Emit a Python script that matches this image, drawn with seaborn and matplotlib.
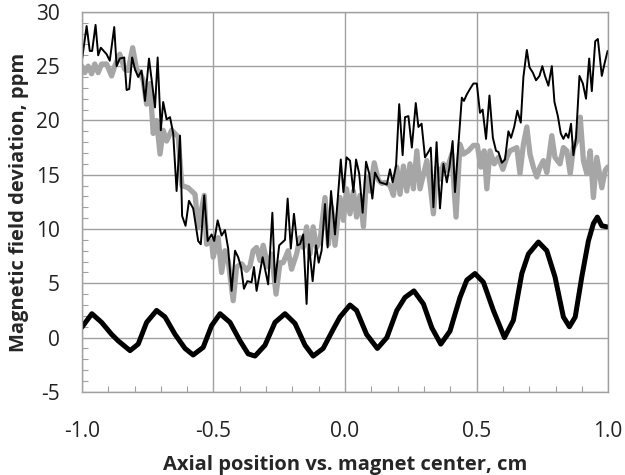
import matplotlib
matplotlib.use("Agg")
import matplotlib.pyplot as plt
from matplotlib.ticker import MultipleLocator, FormatStrFormatter
import seaborn as sns

# thin black trace (noisy measurement)
thin_x = [-1.000, -0.982, -0.970, -0.961, -0.948, -0.938, -0.928, -0.906, -0.894, -0.877,
          -0.868, -0.856, -0.839, -0.830, -0.820, -0.809, -0.798, -0.786, -0.773, -0.760,
          -0.745, -0.733, -0.722, -0.712, -0.700, -0.691, -0.678, -0.665, -0.653, -0.640,
          -0.627, -0.619, -0.606, -0.593, -0.577, -0.558, -0.548, -0.535, -0.522, -0.507,
          -0.497, -0.484, -0.469, -0.456, -0.444, -0.431, -0.418, -0.406, -0.395, -0.384,
          -0.371, -0.355, -0.346, -0.336, -0.313, -0.292, -0.276, -0.266, -0.250, -0.228,
          -0.218, -0.206, -0.194, -0.181, -0.171, -0.159, -0.146, -0.137, -0.123, -0.110,
          -0.100, -0.089, -0.076, -0.066, -0.053, -0.038, -0.028, -0.016, -0.006, 0.006,
          0.019, 0.032, 0.042, 0.054, 0.067, 0.080, 0.092, 0.104, 0.114, 0.133,
          0.146, 0.159, 0.171, 0.181, 0.194, 0.206, 0.219, 0.228, 0.241, 0.254,
          0.269, 0.279, 0.291, 0.304, 0.317, 0.326, 0.336, 0.348, 0.361, 0.374,
          0.387, 0.397, 0.409, 0.418, 0.431, 0.444, 0.452, 0.463, 0.475, 0.488,
          0.501, 0.513, 0.523, 0.536, 0.549, 0.562, 0.574, 0.583, 0.596, 0.608,
          0.621, 0.631, 0.643, 0.655, 0.668, 0.678, 0.691, 0.701, 0.714, 0.726,
          0.739, 0.750, 0.760, 0.773, 0.786, 0.796, 0.809, 0.820, 0.830, 0.840,
          0.849, 0.859, 0.868, 0.878, 0.891, 0.904, 0.916, 0.928, 0.938, 0.951,
          0.961, 0.976, 0.986, 0.998]
thin_y = [25.5, 28.7, 26.4, 26.4, 28.8, 26.0, 26.7, 26.1, 25.5, 28.6,
          25.0, 25.7, 25.8, 22.8, 22.9, 25.8, 24.7, 24.0, 24.6, 21.8,
          25.7, 23.4, 21.2, 25.8, 19.1, 21.7, 20.1, 20.3, 18.8, 13.5,
          18.6, 11.2, 10.3, 12.6, 11.9, 8.9, 8.6, 13.1, 8.9, 9.5,
          8.9, 10.8, 9.4, 9.9, 8.2, 4.3, 8.0, 7.4, 6.5, 4.5,
          5.2, 5.1, 6.5, 4.3, 7.4, 4.9, 11.5, 5.1, 8.5, 9.0,
          12.8, 8.2, 11.4, 8.5, 8.6, 9.5, 3.1, 8.6, 5.2, 8.5,
          6.9, 8.0, 12.3, 8.3, 13.5, 9.5, 12.6, 16.4, 13.4, 16.6,
          16.3, 13.4, 16.4, 15.1, 11.5, 16.2, 15.1, 12.8, 15.2, 14.3,
          14.2, 14.1, 15.5, 14.3, 15.8, 21.5, 16.8, 20.3, 20.4, 17.5,
          21.6, 19.4, 19.7, 16.6, 17.1, 17.5, 12.0, 18.0, 11.9, 16.0,
          14.3, 15.7, 18.1, 13.4, 17.8, 22.1, 21.8, 22.4, 22.9, 23.4,
          23.4, 20.7, 21.0, 18.3, 22.3, 18.4, 17.2, 17.1, 16.1, 16.4,
          19.0, 18.4, 19.4, 20.9, 19.8, 24.0, 26.5, 24.9, 24.4, 23.7,
          24.1, 25.0, 24.1, 23.2, 25.0, 21.7, 20.4, 18.8, 18.3, 18.8,
          18.4, 19.7, 16.8, 18.4, 24.1, 23.4, 22.0, 25.7, 22.7, 27.3,
          27.5, 24.1, 25.2, 26.4]

# thick gray trace
gray_x = [-1.000, -0.989, -0.976, -0.963, -0.951, -0.938, -0.925, -0.906, -0.887, -0.875,
          -0.856, -0.837, -0.824, -0.807, -0.792, -0.779, -0.767, -0.754, -0.741, -0.729,
          -0.716, -0.703, -0.691, -0.678, -0.659, -0.634, -0.620, -0.596, -0.570, -0.558,
          -0.535, -0.526, -0.507, -0.501, -0.482, -0.469, -0.456, -0.444, -0.425, -0.412,
          -0.393, -0.374, -0.361, -0.349, -0.336, -0.323, -0.311, -0.292, -0.279, -0.262,
          -0.247, -0.235, -0.216, -0.203, -0.184, -0.171, -0.159, -0.146, -0.133, -0.121,
          -0.108, -0.095, -0.076, -0.063, -0.051, -0.038, -0.019, -0.006, 0.006, 0.019,
          0.032, 0.044, 0.057, 0.070, 0.082, 0.095, 0.111, 0.127, 0.140, 0.152,
          0.171, 0.184, 0.197, 0.209, 0.222, 0.235, 0.247, 0.260, 0.273, 0.285,
          0.311, 0.323, 0.336, 0.349, 0.361, 0.374, 0.387, 0.406, 0.422, 0.437,
          0.450, 0.469, 0.488, 0.503, 0.516, 0.529, 0.539, 0.551, 0.567, 0.583,
          0.600, 0.615, 0.627, 0.653, 0.665, 0.678, 0.691, 0.703, 0.716, 0.729,
          0.741, 0.754, 0.767, 0.786, 0.798, 0.817, 0.830, 0.843, 0.856, 0.868,
          0.881, 0.894, 0.906, 0.919, 0.932, 0.944, 0.957, 0.976, 0.989, 0.998]
gray_y = [25.0, 24.4, 25.0, 24.3, 25.2, 24.4, 25.2, 25.2, 24.1, 25.0,
          26.1, 24.7, 24.6, 26.7, 24.7, 24.4, 23.7, 21.5, 23.4, 18.8,
          20.0, 16.9, 19.1, 18.1, 19.1, 18.5, 14.0, 13.8, 13.2, 10.2,
          13.1, 8.6, 8.9, 7.4, 9.2, 6.0, 8.0, 7.1, 3.4, 6.5,
          6.8, 6.2, 6.6, 8.0, 8.3, 7.1, 8.5, 6.5, 7.7, 4.0,
          6.9, 6.9, 8.0, 6.3, 7.7, 9.2, 8.3, 10.2, 7.7, 10.2,
          8.3, 8.9, 12.9, 8.6, 12.0, 8.5, 12.9, 10.8, 13.7, 11.4,
          13.5, 11.1, 13.1, 10.2, 14.8, 13.5, 16.1, 14.5, 14.2, 14.3,
          14.0, 13.1, 15.7, 13.2, 15.8, 13.5, 16.0, 13.7, 17.2, 13.7,
          16.3, 14.2, 11.4, 15.7, 14.6, 16.0, 15.4, 16.9, 11.1, 17.8,
          16.9, 17.2, 17.7, 17.7, 15.7, 17.2, 13.7, 17.2, 16.0, 16.6,
          15.5, 16.6, 17.2, 17.5, 15.1, 17.8, 19.4, 16.9, 15.7, 14.8,
          15.7, 16.3, 15.2, 18.6, 16.6, 16.0, 17.5, 17.2, 15.1, 17.5,
          18.1, 20.3, 16.3, 15.1, 17.2, 12.9, 16.6, 13.8, 15.4, 15.7]

# thick black oscillating trace
osc_x = [-1.000, -0.962, -0.925, -0.887, -0.862, -0.817, -0.786, -0.754, -0.716, -0.684,
         -0.646, -0.608, -0.577, -0.539, -0.507, -0.475, -0.437, -0.399, -0.368, -0.342,
         -0.304, -0.266, -0.228, -0.190, -0.152, -0.121, -0.083, -0.044, -0.019, 0.019,
         0.044, 0.082, 0.123, 0.159, 0.197, 0.228, 0.262, 0.298, 0.330, 0.364,
         0.399, 0.437, 0.463, 0.494, 0.526, 0.564, 0.606, 0.640, 0.672, 0.697,
         0.735, 0.767, 0.798, 0.830, 0.853, 0.875, 0.900, 0.925, 0.944, 0.959,
         0.976, 0.995]
osc_y = [0.95, 2.2, 1.4, 0.3, -0.3, -1.2, -0.6, 1.4, 2.5, 1.9,
         0.3, -1.0, -1.6, -0.9, 1.1, 2.2, 1.4, -0.3, -1.5, -1.7,
         -0.7, 1.4, 2.2, 1.3, -0.7, -1.7, -1.0, 0.8, 1.9, 3.0,
         2.5, 0.3, -1.0, 0.0, 2.5, 3.7, 4.3, 3.1, 0.9, -0.6,
         0.6, 3.7, 5.3, 5.9, 5.1, 2.5, 0.0, 1.6, 5.9, 7.7,
         8.8, 8.0, 5.6, 1.9, 1.0, 1.9, 5.6, 8.9, 10.5, 11.1,
         10.3, 10.2]

sns.set_style("white")
plt.rcParams['font.family'] = ['Open Sans', 'DejaVu Sans']
plt.rcParams['axes.unicode_minus'] = False

fig, ax = plt.subplots(figsize=(6.25, 4.75), dpi=100)
fig.subplots_adjust(left=0.131, right=0.973, top=0.975, bottom=0.175)

line_kw = dict(ax=ax, sort=False, estimator=None, solid_joinstyle='round', solid_capstyle='round')
sns.lineplot(x=gray_x, y=gray_y, color='#a6a6a6', linewidth=3.8, **line_kw)
sns.lineplot(x=thin_x, y=thin_y, color='black', linewidth=1.4, **line_kw)
sns.lineplot(x=osc_x, y=osc_y, color='black', linewidth=3.6, **line_kw)

ax.set_xlim(-1, 1)
ax.set_ylim(-5, 30)
ax.xaxis.set_major_locator(MultipleLocator(0.5))
ax.xaxis.set_minor_locator(MultipleLocator(0.1))
ax.yaxis.set_major_locator(MultipleLocator(5))
ax.yaxis.set_minor_locator(MultipleLocator(1))
ax.xaxis.set_major_formatter(FormatStrFormatter('%.1f'))
ax.yaxis.set_major_formatter(FormatStrFormatter('%d'))

ax.grid(True, which='major', color='#a0a0a0', linewidth=1)
ax.set_axisbelow(True)
for s in ax.spines.values():
    s.set_color('#a0a0a0')
    s.set_linewidth(1)
ax.tick_params(which='major', length=0, labelsize=15, colors='#222222')
ax.tick_params(axis='x', which='major', pad=21)
ax.tick_params(axis='y', which='major', pad=16)
ax.tick_params(which='minor', direction='in', length=4, width=0.8, color='#a0a0a0',
               bottom=True, left=True)

ax.set_xlabel('Axial position vs. magnet center, cm', fontsize=14.5, fontweight='bold', labelpad=9)
ax.set_ylabel('Magnetic field deviation, ppm', fontsize=14.5, fontweight='bold', labelpad=5)

fig.savefig('out.png', dpi=100)
